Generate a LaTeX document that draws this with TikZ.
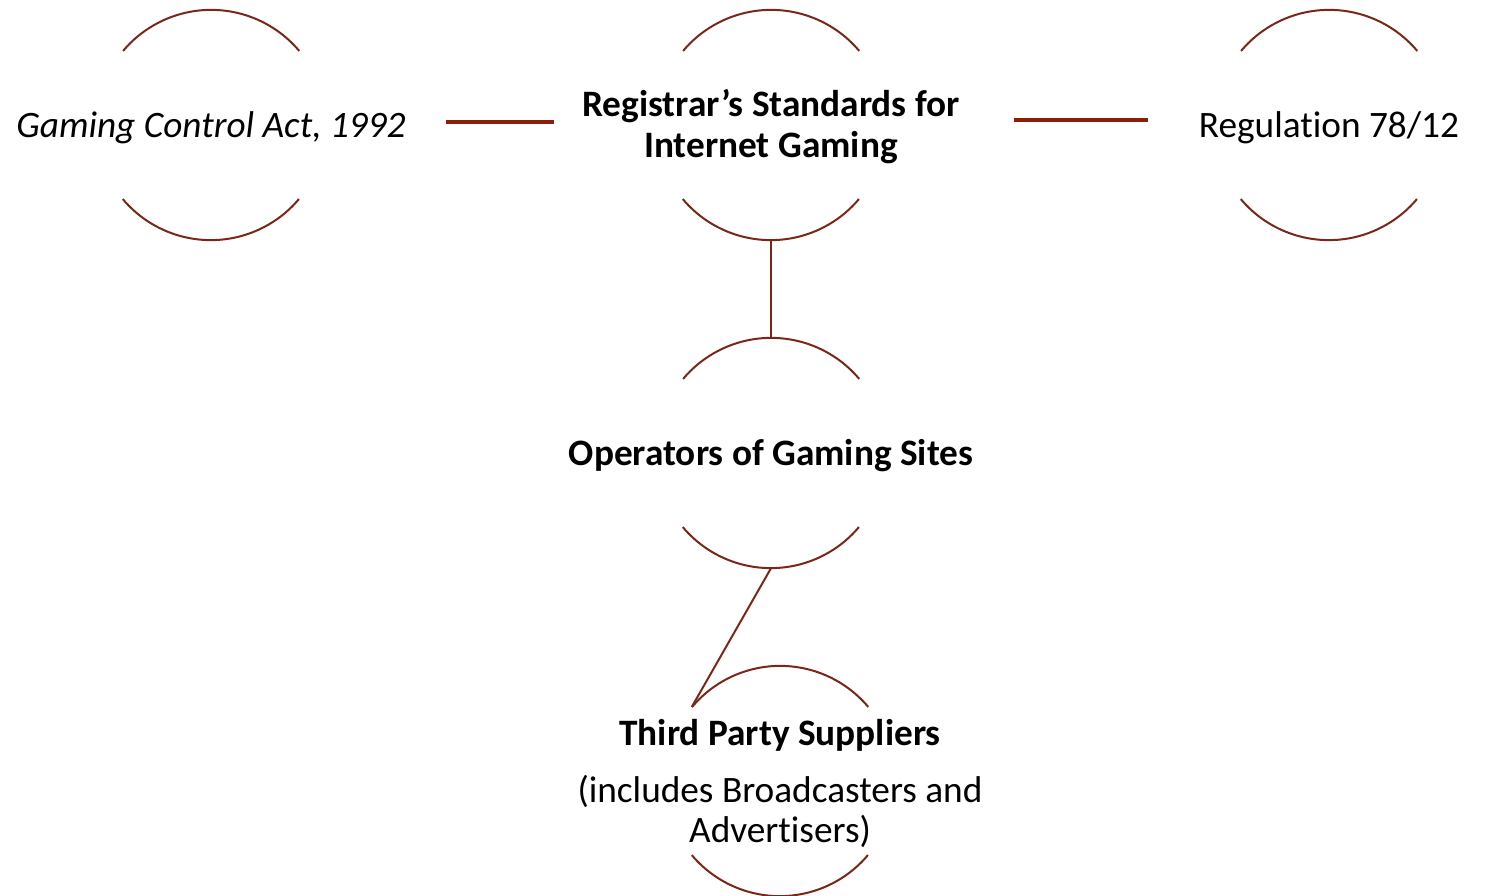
\documentclass[tikz,border=0pt]{standalone}
\usepackage{fontspec}
\setmainfont{Carlito}[Ligatures={NoCommon}]
\definecolor{arcc}{HTML}{7A2618}
\definecolor{linec}{HTML}{8B1E0A}
\begin{document}
\begin{tikzpicture}[x=1pt,y=1pt,
  ring/.style={circle,minimum size=230pt,inner sep=0pt},
  arcline/.style={draw=arcc,line width=2pt},
  hlink/.style={draw=linec,line width=3.5pt},
  vlink/.style={draw=arcc,line width=2pt},
  lbl/.style={font=\fontsize{37.3}{41}\selectfont,align=center,inner sep=0pt,anchor=base}]
\useasboundingbox (0,0) rectangle (1486,-896);
% circles (only used as anchors)
\node[ring] (c1) at (211,-125) {};
\node[ring] (c2) at (771,-125) {};
\node[ring] (c3) at (1329,-125) {};
\node[ring] (c4) at (771,-453) {};
\node[ring] (c5) at (780,-781) {};
\foreach \c in {c1,c2,c3,c4,c5}{
  \draw[arcline] (\c.40) arc[start angle=40,end angle=140,radius=115pt];
  \draw[arcline] (\c.220) arc[start angle=220,end angle=320,radius=115pt];
}
% labels
\node[lbl] (t1) at (211,-138) {\itshape Gaming Control Act, 1992};
\node[lbl] (t2a) at (771,-117) {\bfseries Registrar’s Standards for};
\node[lbl] (t2b) at (771,-158) {\bfseries Internet Gaming};
\node[lbl] (t3) at (1329,-138) {Regulation 78/12};
\node[lbl] (t4) at (771,-465) {\bfseries Operators of Gaming Sites};
\node[lbl] (t5a) at (780,-745) {\bfseries Third Party Suppliers};
\node[lbl] (t5b) at (780,-802) {(includes Broadcasters and};
\node[lbl] (t5c) at (780,-842) {Advertisers)};
% connectors
\draw[hlink,shorten <=120pt,shorten >=102pt] ([yshift=3pt]c1.east) -- ([yshift=3pt]c2.west);
\draw[hlink,shorten <=128pt,shorten >=66pt] ([yshift=5pt]c2.east) -- ([yshift=5pt]c3.west);
\draw[vlink] (c2.south) -- (c4.north);
\draw[vlink] (c4.south) -- (c5.140);
\end{tikzpicture}
\end{document}
